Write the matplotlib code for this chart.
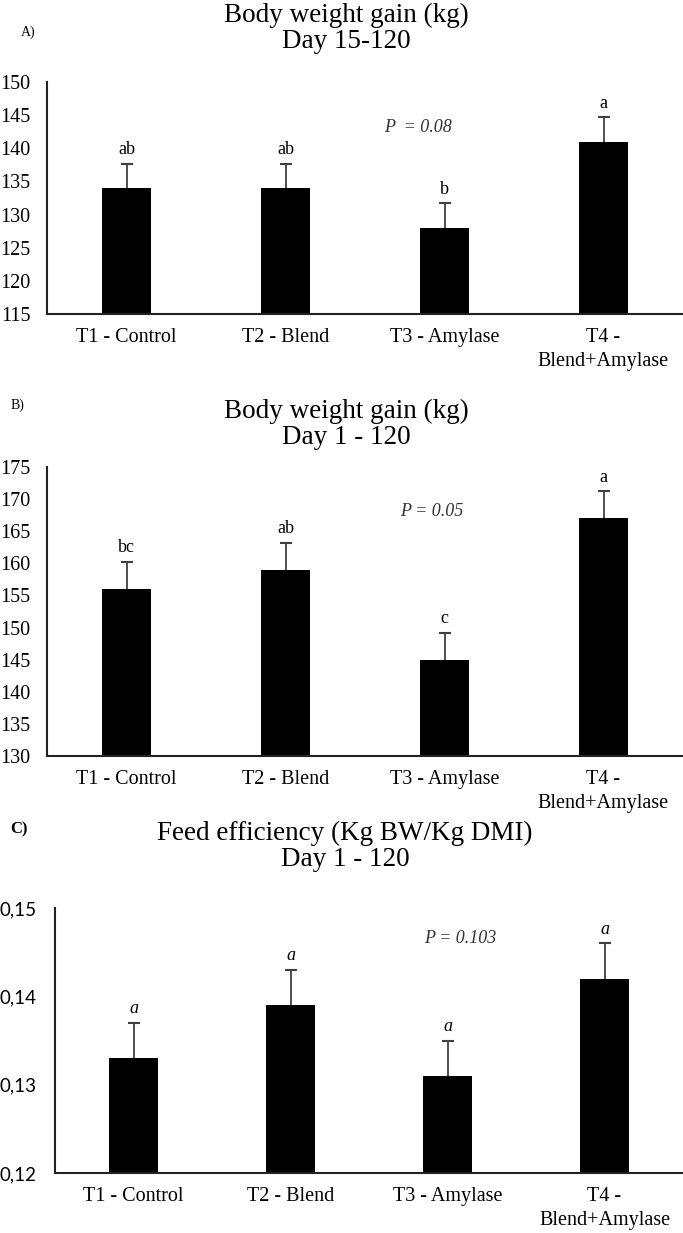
import numpy as np
import matplotlib
matplotlib.use("Agg")
import matplotlib.pyplot as plt

plt.rcParams['font.family'] = ['Liberation Serif', 'DejaVu Serif']

# treatments
groups = ['T1 - Control', 'T2 - Blend', 'T3 - Amylase', 'T4 -\nBlend+Amylase']

# A) body weight gain, day 15-120
gain_15_120 = [134, 134, 128, 141]
se_15_120 = [3.7, 3.7, 3.7, 3.7]
letters_a = ['ab', 'ab', 'b', 'a']

# B) body weight gain, day 1-120
gain_1_120 = [156, 159, 145, 167]
se_1_120 = [4.2, 4.2, 4.2, 4.2]
letters_b = ['bc', 'ab', 'c', 'a']

# C) feed efficiency, day 1-120
fe_1_120 = [0.133, 0.139, 0.131, 0.142]
se_fe = [0.004, 0.004, 0.004, 0.004]
letters_c = ['a', 'a', 'a', 'a']

W, H = 683, 1233
fig = plt.figure(figsize=(W / 100, H / 100), dpi=100)


def px_axes(left, top, bottom, right=683):
    return fig.add_axes([left / W, (H - bottom) / H, (right - left) / W, (bottom - top) / H])


def panel(ax, vals, se, letters, ylim, step, italic=False, tickfont=None, fmt=None):
    x = np.arange(len(groups))
    top = np.array(vals) + np.array(se)
    # upper error bars only (no cap at the bar top)
    ax.vlines(x, vals, top, color='#404040', lw=1.3, zorder=1)
    ax.plot(x, top, ls='none', marker='_', ms=9, mew=1.5, color='#404040', zorder=1)
    ax.bar(x, vals, width=0.31, color='black', zorder=2)
    for xi, t, lab in zip(x, top, letters):
        ax.annotate(lab, (xi, t), xytext=(0, 4), textcoords='offset points',
                    ha='center', va='bottom', fontsize=13,
                    style='italic' if italic else 'normal')
    ax.set_xlim(-0.5, len(groups) - 0.5)
    ax.set_ylim(*ylim)
    ax.set_yticks(np.arange(ylim[0], ylim[1] + step / 2, step))
    if fmt:
        ax.set_yticklabels([fmt(t) for t in ax.get_yticks()])
    ax.set_xticks(x)
    ax.set_xticklabels(groups, fontsize=14.5, linespacing=1.4)
    ax.tick_params(axis='x', length=0, pad=10)
    ax.tick_params(axis='y', length=0, pad=12, labelsize=14.5)
    if tickfont:
        for t in ax.get_yticklabels():
            t.set_family(tickfont)
            t.set_fontsize(13.5)
    for s in ['top', 'right']:
        ax.spines[s].set_visible(False)
    for s in ['left', 'bottom']:
        ax.spines[s].set_linewidth(1.5)
        ax.spines[s].set_color('#222222')


# panel A
axA = px_axes(47, 82, 314)
panel(axA, gain_15_120, se_15_120, letters_a, (115, 150), 5)
axA.text(2 - 0.17, 143.2, 'P  = 0.08', ha='center', va='center', fontsize=13,
         style='italic', color='#333333')
fig.text(346 / W, 1 - 15 / H, 'Body weight gain (kg)', ha='center', va='center', fontsize=19.5)
fig.text(346 / W, 1 - 41 / H, 'Day 15-120', ha='center', va='center', fontsize=19.5)
fig.text(28 / W, 1 - 32 / H, 'A)', ha='center', va='center', fontsize=10)

# panel B
axB = px_axes(47, 467, 756)
panel(axB, gain_1_120, se_1_120, letters_b, (130, 175), 5)
axB.text(2 - 0.08, 168, 'P = 0.05', ha='center', va='center', fontsize=13,
         style='italic', color='#333333')
fig.text(346 / W, 1 - 411 / H, 'Body weight gain (kg)', ha='center', va='center', fontsize=19.5)
fig.text(346 / W, 1 - 438 / H, 'Day 1 - 120', ha='center', va='center', fontsize=19.5)
fig.text(17 / W, 1 - 405 / H, 'B)', ha='center', va='center', fontsize=10)

# panel C
axC = px_axes(55, 908, 1173)
panel(axC, fe_1_120, se_fe, letters_c, (0.12, 0.15), 0.01, italic=True,
      tickfont='Lato', fmt=lambda t: f'{t:.2f}'.replace('.', ','))
axC.tick_params(axis='y', pad=13)
axC.text(2 + 0.08, 0.1466, 'P = 0.103', ha='center', va='center', fontsize=13,
         style='italic', color='#333333')
fig.text(345 / W, 1 - 833 / H, 'Feed efficiency (Kg BW/Kg DMI)', ha='center', va='center', fontsize=19.5)
fig.text(345 / W, 1 - 860 / H, 'Day 1 - 120', ha='center', va='center', fontsize=19.5)
fig.text(19 / W, 1 - 829 / H, 'C)', ha='center', va='center', fontsize=12, fontweight='bold')

fig.savefig('out.png', dpi=100, facecolor='white')
